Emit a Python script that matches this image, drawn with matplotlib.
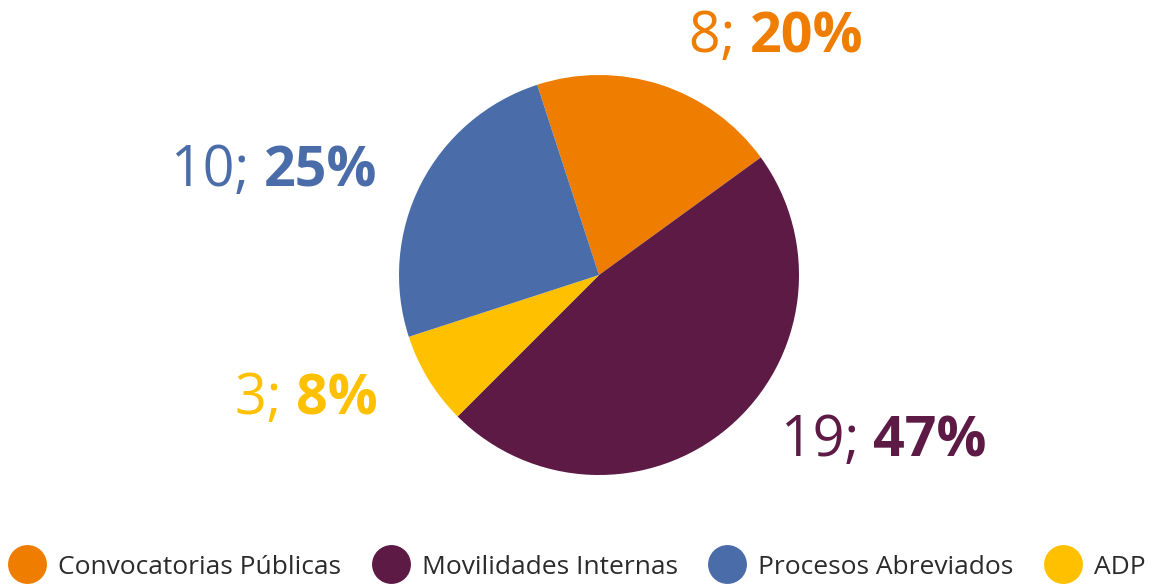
import matplotlib.pyplot as plt
from matplotlib.lines import Line2D

# --- data ---
categories = ["Convocatorias Públicas", "Movilidades Internas", "ADP", "Procesos Abreviados"]
counts = [8, 19, 3, 10]
pct_labels = ["20%", "47%", "8%", "25%"]
colors = ["#EE7D00", "#5C1A45", "#FFC000", "#4A6DAA"]

legend_order = ["Convocatorias Públicas", "Movilidades Internas", "Procesos Abreviados", "ADP"]

# label anchor positions (pie data coords, radius = 1)
label_pos = [(0.45, 1.19), (0.91, -0.83), (-1.82, -0.62), (-2.14, 0.52)]

plt.rcParams["font.family"] = ["Open Sans", "DejaVu Sans"]

fig = plt.figure(figsize=(11.54, 5.86), dpi=100)
ax = fig.add_axes([(599 - 200) / 1154, (586 - 475) / 586, 400 / 1154, 400 / 586])

ax.pie(counts, colors=colors, startangle=108, counterclock=False,
       radius=1.0, wedgeprops=dict(linewidth=0))
ax.set_xlim(-1, 1)
ax.set_ylim(-1, 1)
ax.set_aspect("equal")
ax.axis("off")

for (x, y), n, p, c in zip(label_pos, counts, pct_labels, colors):
    t1 = ax.text(x, y, f"{n}; ", color=c, fontsize=40, ha="left", va="center",
                 clip_on=False)
    ax.annotate(p, xy=(1, 0), xycoords=t1, xytext=(0, 0), textcoords="offset points",
                color=c, fontsize=40, fontweight="bold", ha="left", va="bottom",
                annotation_clip=False)

# legend
cmap = dict(zip(categories, colors))
handles = [Line2D([0], [0], marker="o", linestyle="none", markersize=28,
                  markerfacecolor=cmap[k], markeredgewidth=0) for k in legend_order]
fig.legend(handles, legend_order, loc="center left", bbox_to_anchor=(0.010, 19 / 586),
           ncol=4, frameon=False, fontsize=19, labelcolor="#2b2b2b",
           handletextpad=0.57, columnspacing=1.28, handlelength=1.2,
           borderaxespad=0, borderpad=0)

fig.savefig("out.png", dpi=100)
